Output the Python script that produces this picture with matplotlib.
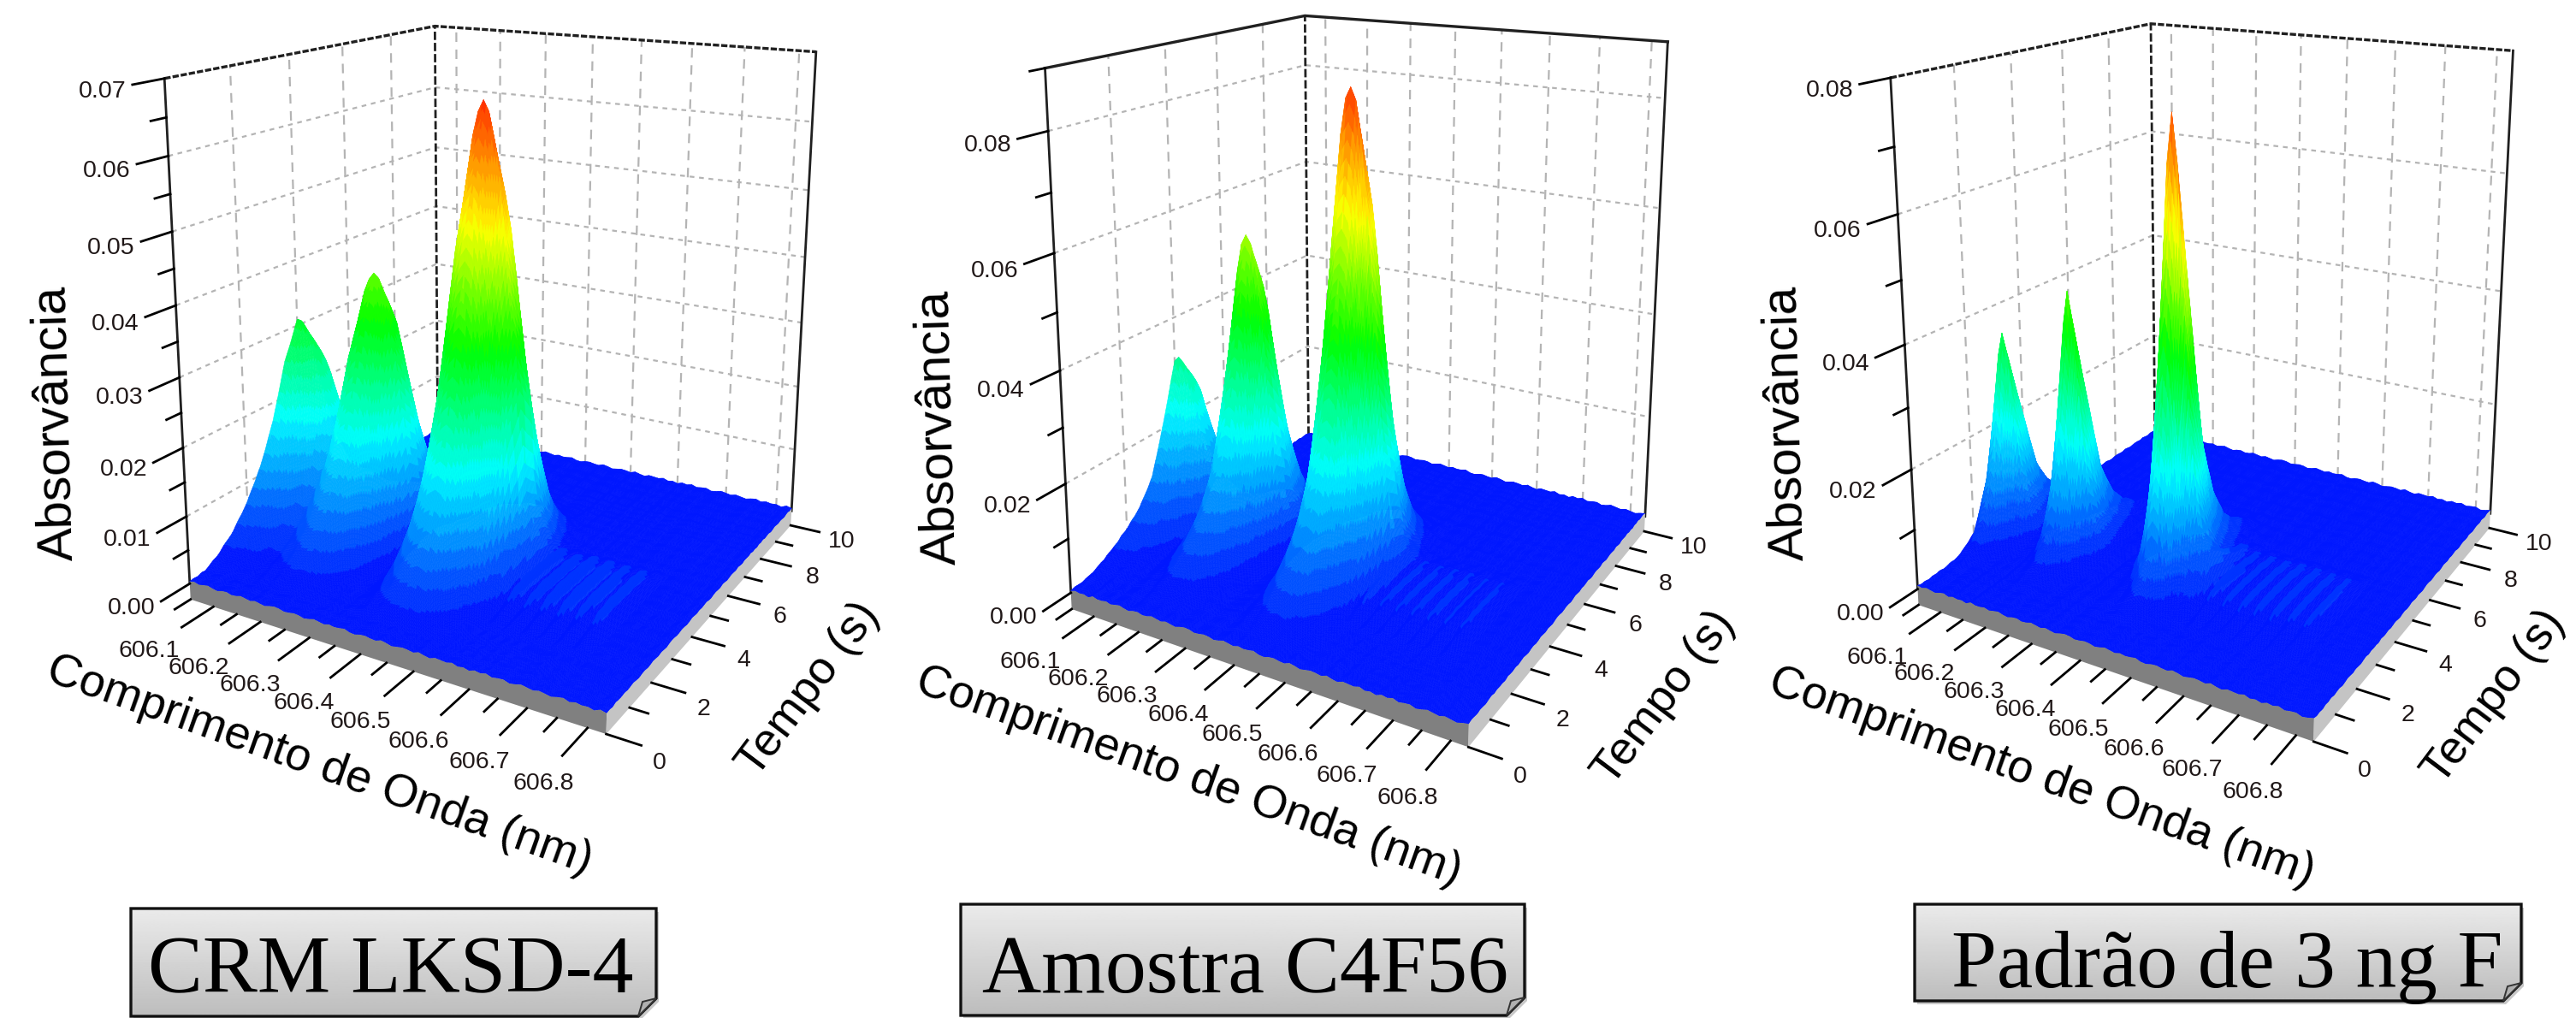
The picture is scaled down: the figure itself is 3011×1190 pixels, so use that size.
#!/usr/bin/env python3
"""Three 3D absorbance surfaces (wavelength x time) with captions below each."""

from __future__ import annotations

import matplotlib

matplotlib.use("Agg")

import matplotlib.pyplot as plt
import numpy as np
from matplotlib.collections import PolyCollection
from matplotlib.colors import LinearSegmentedColormap
from matplotlib.patches import Polygon


WIDTH, HEIGHT = 3011, 1190

WL_MIN, WL_MAX = 606.05, 606.83
TIME_MIN, TIME_MAX = 0.0, 10.0

WL_MAJOR = [606.1, 606.2, 606.3, 606.4, 606.5, 606.6, 606.7, 606.8]
WL_MINOR = [606.05, 606.15, 606.25, 606.35, 606.45, 606.55, 606.65, 606.75]
WL_LABELS = ["606.1", "606.2", "606.3", "606.4", "606.5", "606.6", "606.7", "606.8"]
TIME_MAJOR = [0, 2, 4, 6, 8, 10]
TIME_MINOR = [1, 3, 5, 7, 9]

# absorbance axis of each panel
ABS_MAX = [0.07, 0.09, 0.08]
ABS_MAJOR = [
    [0.00, 0.01, 0.02, 0.03, 0.04, 0.05, 0.06, 0.07],
    [0.00, 0.02, 0.04, 0.06, 0.08],
    [0.00, 0.02, 0.04, 0.06, 0.08],
]
ABS_MINOR = [
    [0.005, 0.015, 0.025, 0.035, 0.045, 0.055, 0.065],
    [0.01, 0.03, 0.05, 0.07, 0.09],
    [0.01, 0.03, 0.05, 0.07],
]
ABS_LABELS = [
    ["0.00", "0.01", "0.02", "0.03", "0.04", "0.05", "0.06", "0.07"],
    ["0.00", "0.02", "0.04", "0.06", "0.08"],
    ["0.00", "0.02", "0.04", "0.06", "0.08"],
]
COLOR_TOP = [0.066, 0.086, 0.076]

# peaks: centre (nm), height, half profile
PEAK_WL = [
    [606.052, 606.22, 606.44],
    [606.06, 606.22, 606.44],
    [606.07, 606.22, 606.44],
]
PEAK_HEIGHT = [
    [0.0305, 0.0395, 0.0655],
    [0.032, 0.0575, 0.085],
    [0.0352, 0.0445, 0.0745],
]

HALF_OFFSET = [0.0, 0.01, 0.02, 0.03, 0.04, 0.05, 0.06, 0.07, 0.08, 0.10, 0.12, 0.14]
HALF_P1_A = [1, 0.99, 0.96, 0.91, 0.84, 0.74, 0.62, 0.49, 0.37, 0.14, 0.03, 0]
HALF_P1_B = [1, 0.98, 0.93, 0.84, 0.72, 0.58, 0.44, 0.31, 0.20, 0.04, 0, 0]
HALF_P1_C = [1, 0.98, 0.93, 0.85, 0.74, 0.61, 0.48, 0.35, 0.23, 0.05, 0, 0]
HALF_P2_A = [1, 0.98, 0.92, 0.82, 0.69, 0.54, 0.39, 0.26, 0.16, 0.03, 0, 0]
HALF_P2_B = [1, 0.97, 0.88, 0.75, 0.59, 0.42, 0.28, 0.17, 0.09, 0.01, 0, 0]
HALF_P2_C = [1, 0.98, 0.91, 0.79, 0.64, 0.48, 0.33, 0.21, 0.12, 0.02, 0, 0]
HALF_P3_A = [1, 0.90, 0.66, 0.42, 0.25, 0.14, 0.08, 0.04, 0.02, 0, 0, 0]
HALF_P3_B = [1, 0.88, 0.62, 0.38, 0.22, 0.12, 0.06, 0.03, 0.01, 0, 0, 0]
HALF_P3_C = [1, 0.90, 0.65, 0.42, 0.26, 0.15, 0.09, 0.05, 0.02, 0.01, 0, 0]
PEAK_HALF = [
    [HALF_P1_A, HALF_P1_B, HALF_P1_C],
    [HALF_P2_A, HALF_P2_B, HALF_P2_C],
    [HALF_P3_A, HALF_P3_B, HALF_P3_C],
]

TIME_GRID = [0, 0.5, 1, 1.5, 2, 2.5, 3, 3.5, 4, 4.5, 5, 5.5, 6, 6.5, 7, 7.5, 8, 8.5, 9, 9.5, 10]
TIME_P1 = [0, 0.005, 0.05, 0.12, 0.22, 0.36, 0.55, 0.82, 1.0, 0.86, 0.54, 0.27, 0.12, 0.04, 0.01, 0, 0, 0, 0, 0, 0]
TIME_P2 = [0, 0.01, 0.04, 0.09, 0.15, 0.23, 0.37, 0.66, 1.0, 0.84, 0.48, 0.24, 0.10, 0.04, 0.01, 0, 0, 0, 0, 0, 0]
TIME_P3 = [0, 0, 0.005, 0.03, 0.12, 0.42, 1.0, 0.66, 0.32, 0.17, 0.09, 0.05, 0.03, 0.01, 0, 0, 0, 0, 0, 0, 0]
PEAK_TIME = [TIME_P1, TIME_P2, TIME_P3]

# faint stripes on the plate right of the big peak
RIPPLE_WL = [606.49, 606.51, 606.525, 606.54, 606.555, 606.57, 606.585, 606.60, 606.615, 606.63,
             606.645, 606.66, 606.675, 606.69, 606.705, 606.72, 606.74]
RIPPLE_ABS = [0, 0.0032, 0, 0.0032, 0, 0.0034, 0, 0.0034, 0, 0.0034, 0, 0.0034, 0, 0.0032, 0, 0.0032, 0]
RIPPLE_TIME = [0, 0, 0, 0, 0.5, 0.9, 1, 1, 1, 0.9, 0.4, 0, 0, 0, 0, 0, 0, 0, 0, 0, 0]
RIPPLE_GAIN = [1.0, 1.0, 1.0]

# small plate roughness seen on the rim of the plate
ROUGH_WL = [0.3, 0.5, 0.2, 0.4, 0.6, 0.3, 0.1, 0.4, 0.5, 0.2, 0.3, 0.6, 0.4, 0.2, 0.5, 0.3, 0.1, 0.4, 0.6, 0.5,
            0.2, 0.3, 0.5, 0.4, 0.1, 0.3, 0.6, 0.4, 0.2, 0.5, 0.3, 0.4, 0.6, 0.2, 0.1, 0.4, 0.5, 0.3, 0.2, 0.6,
            0.4, 0.1, 0.3, 0.5, 0.4, 0.2, 0.6, 0.3, 0.1, 0.5, 0.4, 0.3, 0.6, 0.2, 0.4, 0.1, 0.5, 0.3, 0.6, 0.2,
            0.4, 0.5, 0.1, 0.3, 0.6, 0.4, 0.2, 0.5, 0.3, 0.1, 0.4, 0.6, 0.2, 0.5, 0.3, 0.4, 0.1, 0.6, 0.3]

ABS_TITLE = "Absorvância"
WL_TITLE = "Comprimento de Onda (nm)"
TIME_TITLE = "Tempo (s)"
CAPTIONS = ["CRM LKSD-4", "Amostra C4F56", "Padrão de 3 ng F"]

# frame corners in figure pixels: left base, front, right base, back base,
# left top, right top, back top
CORNERS = [
    [(223, 681), (709, 838), (926, 596), (510, 505), (191, 92), (953, 61), (510, 30)],
    [(1252, 692), (1717, 852), (1923, 603), (1529, 509), (1221, 80), (1949, 49), (1526, 18)],
    [(2242, 689), (2705, 845), (2911, 601), (2518, 505), (2209, 91), (2937, 59), (2515, 28)],
]
CORNER_UVW = [(0, 0, 0), (1, 0, 0), (1, 1, 0), (0, 1, 0), (0, 0, 1), (1, 1, 1), (0, 1, 1)]

ABS_TITLE_AT = [(65, 495), (1097, 500), (2088, 495)]
WL_TITLE_AT = [(373, 895), (1389, 908), (2386, 909)]
TIME_TITLE_AT = [(945, 806), (1945, 816), (2915, 815)]

CAPTION_BOX = [(153, 767, 1062, 1188), (1123, 1782, 1057, 1187), (2238, 2947, 1057, 1170)]
CAPTION_AT = [(457, 1160), (1456, 1160), (2603, 1154)]
CAPTION_SIZE = [69, 69, 68.5]

BLUE_JET = LinearSegmentedColormap.from_list(
    "blue_jet",
    [(0.0, (0.0, 0.09, 1.0)), (0.25, (0.0, 1.0, 1.0)), (0.5, (0.0, 1.0, 0.0)),
     (0.75, (1.0, 1.0, 0.0)), (1.0, (1.0, 0.2, 0.0))],
)
N_BANDS = 32

TICK_FONT = ["Liberation Sans", "DejaVu Sans"]
TITLE_FONT = ["Liberation Sans", "DejaVu Sans"]
CAPTION_FONT = ["Liberation Serif", "DejaVu Serif"]


def fit_camera(corners):
    rows = []
    for (u, v, w), (x, y) in zip(CORNER_UVW, corners):
        x, y = x / 1000, y / 1000
        rows.append([u, v, w, 1, 0, 0, 0, 0, -x * u, -x * v, -x * w, -x])
        rows.append([0, 0, 0, 0, u, v, w, 1, -y * u, -y * v, -y * w, -y])
    _, _, vt = np.linalg.svd(np.array(rows, dtype=float))
    return vt[-1].reshape(3, 4)


def project(cam, wl, t, a, a_max):
    u = (np.asarray(wl, dtype=float) - WL_MIN) / (WL_MAX - WL_MIN)
    v = (np.asarray(t, dtype=float) - TIME_MIN) / (TIME_MAX - TIME_MIN)
    w = np.asarray(a, dtype=float) / a_max
    den = cam[2, 0] * u + cam[2, 1] * v + cam[2, 2] * w + cam[2, 3]
    x = (cam[0, 0] * u + cam[0, 1] * v + cam[0, 2] * w + cam[0, 3]) / den * 1000
    y = (cam[1, 0] * u + cam[1, 1] * v + cam[1, 2] * w + cam[1, 3]) / den * 1000
    return x, y


def build_surface(panel):
    # mesh density for drawing only
    wl = np.linspace(WL_MIN, WL_MAX, 313)
    t = np.linspace(TIME_MIN, TIME_MAX, 201)
    time_curve = np.interp(t, TIME_GRID, PEAK_TIME[panel])
    clean = np.zeros((t.size, wl.size))
    for centre, height, half in zip(PEAK_WL[panel], PEAK_HEIGHT[panel], PEAK_HALF[panel]):
        spec = np.interp(np.abs(wl - centre), HALF_OFFSET, half, right=0.0)
        clean += height * np.outer(time_curve, spec)
    ripple = np.interp(wl, RIPPLE_WL, RIPPLE_ABS, left=0, right=0)
    clean += RIPPLE_GAIN[panel] * np.outer(np.interp(t, TIME_GRID, RIPPLE_TIME), ripple)
    grid_wl = np.linspace(WL_MIN, WL_MAX, len(ROUGH_WL))
    grid_t = np.linspace(TIME_MIN, TIME_MAX, len(ROUGH_WL))
    rough_wl = np.interp(wl, grid_wl, np.roll(ROUGH_WL, panel * 7))
    rough_t = np.interp(t, grid_t, np.roll(ROUGH_WL, panel * 11 + 5))
    rough = rough_t[:, None] * 0.6 + rough_wl[None, :]
    return wl, t, clean, clean + ABS_MAX[panel] * 0.01 * rough


def draw_walls(ax, cam, panel):
    a_max = ABS_MAX[panel]
    for a in ABS_MAJOR[panel][1:]:
        if a >= a_max:
            continue
        xs, ys = project(cam, [WL_MIN, WL_MIN, WL_MAX], [0, TIME_MAX, TIME_MAX], [a, a, a], a_max)
        ax.plot(xs, ys, color="#b4b4b4", lw=1.6, ls=(0, (2.5, 2.5)), zorder=1)
    for t in TIME_MAJOR[1:-1]:
        xs, ys = project(cam, [WL_MIN, WL_MIN], [t, t], [0, a_max], a_max)
        ax.plot(xs, ys, color="#b4b4b4", lw=1.6, ls=(0, (5, 4)), zorder=1)
    for wl in WL_MAJOR:
        xs, ys = project(cam, [wl, wl], [TIME_MAX, TIME_MAX], [0, a_max], a_max)
        ax.plot(xs, ys, color="#b4b4b4", lw=1.6, ls=(0, (5, 4)), zorder=1)

    top_style = "-" if panel == 1 else (0, (2.2, 0.7))
    xs, ys = project(cam, [WL_MIN, WL_MIN, WL_MAX], [0, TIME_MAX, TIME_MAX], [a_max] * 3, a_max)
    ax.plot(xs, ys, color="#202020", lw=2.4, ls=top_style, zorder=2)
    xs, ys = project(cam, [WL_MIN, WL_MIN], [TIME_MAX, TIME_MAX], [0, a_max], a_max)
    ax.plot(xs, ys, color="#202020", lw=2.0, ls=(0, (3.5, 1.2)), zorder=2)
    xs, ys = project(cam, [WL_MIN, WL_MIN], [0, 0], [0, a_max], a_max)
    ax.plot(xs, ys, color="#202020", lw=2.0, zorder=2)
    xs, ys = project(cam, [WL_MAX, WL_MAX], [TIME_MAX, TIME_MAX], [0, a_max], a_max)
    ax.plot(xs, ys, color="#202020", lw=2.0, zorder=2)


def draw_surface(ax, cam, panel):
    a_max = ABS_MAX[panel]
    wl, t, clean, z = build_surface(panel)
    ww, tt = np.meshgrid(wl, t)
    px, py = project(cam, ww, tt, z, a_max)

    bands = np.clip(np.floor(clean / (COLOR_TOP[panel] / N_BANDS)), 0, N_BANDS - 1).astype(int)
    palette = BLUE_JET(np.arange(N_BANDS) / (N_BANDS - 1))
    polys = []
    colors = []
    # far corner first: low wavelength, late time
    for i in range(wl.size - 1):
        for j in range(t.size - 2, -1, -1):
            polys.append(
                [(px[j, i], py[j, i]), (px[j, i + 1], py[j, i + 1]),
                 (px[j + 1, i + 1], py[j + 1, i + 1]), (px[j + 1, i], py[j + 1, i])]
            )
            colors.append(palette[bands[j, i]])
    ax.add_collection(
        PolyCollection(polys, facecolors=colors, edgecolors=colors, linewidths=0.4, zorder=3)
    )

    drop = -0.034 * a_max
    tx, ty = project(cam, wl, np.zeros_like(wl), z[0], a_max)
    bx, by = project(cam, wl[::-1], np.zeros_like(wl), np.full_like(wl, drop), a_max)
    ax.add_patch(Polygon(np.c_[np.r_[tx, bx], np.r_[ty, by]], fc="#808080", ec="none", zorder=4))
    tx, ty = project(cam, np.full_like(t, WL_MAX), t, z[:, -1], a_max)
    bx, by = project(cam, np.full_like(t, WL_MAX), t[::-1], np.full_like(t, drop), a_max)
    ax.add_patch(Polygon(np.c_[np.r_[tx, bx], np.r_[ty, by]], fc="#c4c4c4", ec="none", zorder=4))


def draw_ticks(ax, cam, panel):
    a_max = ABS_MAX[panel]
    drop = -0.034 * a_max
    ink = "#201818"

    for a, label in zip(ABS_MAJOR[panel], ABS_LABELS[panel]):
        xs, ys = project(cam, [WL_MIN, WL_MIN], [0, -0.9], [a, a], a_max)
        ax.plot(xs, ys, color="black", lw=2, zorder=5)
        ax.text(xs[1] - 35, ys[1] + 8, label, fontsize=20.5, family=TICK_FONT, color=ink,
                ha="center", va="center", zorder=6)
    for a in ABS_MINOR[panel]:
        xs, ys = project(cam, [WL_MIN, WL_MIN], [0, -0.45], [a, a], a_max)
        ax.plot(xs, ys, color="black", lw=2, zorder=5)

    count = len(WL_MAJOR) - 1
    for n, (wl, label) in enumerate(zip(WL_MAJOR, WL_LABELS)):
        xs, ys = project(cam, [wl, wl], [0, -1.0], [drop, drop], a_max)
        ax.plot(xs, ys, color="black", lw=2, zorder=5)
        ax.text(xs[1] - 38 + 16 * n / count, ys[1] + 28 + 5 * n / count, label, fontsize=20.5,
                family=TICK_FONT, color=ink, ha="center", va="center", zorder=6)
    for wl in WL_MINOR:
        xs, ys = project(cam, [wl, wl], [0, -0.5], [drop, drop], a_max)
        ax.plot(xs, ys, color="black", lw=2, zorder=5)

    for t in TIME_MAJOR:
        xs, ys = project(cam, [WL_MAX, WL_MAX + 0.055], [t, t], [drop, drop], a_max)
        ax.plot(xs, ys, color="black", lw=2, zorder=5)
        ax.text(xs[1] + 21 + 0.5 * t, ys[1] + 21 - t, f"{t}", fontsize=20.5, family=TICK_FONT,
                color=ink, ha="center", va="center", zorder=6)
    for t in TIME_MINOR:
        xs, ys = project(cam, [WL_MAX, WL_MAX + 0.03], [t, t], [drop, drop], a_max)
        ax.plot(xs, ys, color="black", lw=2, zorder=5)


def draw_caption(ax, panel):
    left, right, top, bottom = CAPTION_BOX[panel]
    fold = 21
    outline = [(left, top), (right, top), (right, bottom - fold), (right - fold, bottom), (left, bottom)]
    shadow = Polygon([(x + 3, y + 4) for x, y in outline], fc="#c8c8c8", ec="none", zorder=7)
    ax.add_patch(shadow)
    box = Polygon(outline, fc="none", ec="#111111", lw=2.4, zorder=9)
    ramp = np.linspace(0.92, 0.74, 128)[:, None]
    image = ax.imshow(ramp, cmap="gray", vmin=0, vmax=1, extent=(left, right, bottom, top),
                      aspect="auto", zorder=8)
    image.set_clip_path(Polygon(outline, transform=ax.transData))
    ax.add_patch(box)
    ax.add_patch(Polygon([(right, bottom - fold), (right - fold + 5, bottom - fold + 4), (right - fold, bottom)],
                         fc="#b0b0b0", ec="#333333", lw=1.4, zorder=9))
    x, y = CAPTION_AT[panel]
    ax.text(x, y, CAPTIONS[panel], fontsize=CAPTION_SIZE[panel], family=CAPTION_FONT, color="black",
            ha="center", va="baseline", zorder=10)


def main() -> None:
    fig = plt.figure(figsize=(WIDTH / 100, HEIGHT / 100), dpi=100)
    ax = fig.add_axes([0, 0, 1, 1])
    ax.set_xlim(0, WIDTH)
    ax.set_ylim(HEIGHT, 0)
    ax.axis("off")

    for panel in range(3):
        cam = fit_camera(CORNERS[panel])
        draw_walls(ax, cam, panel)
        draw_surface(ax, cam, panel)
        draw_ticks(ax, cam, panel)

        x, y = ABS_TITLE_AT[panel]
        ax.text(x, y, ABS_TITLE, fontsize=42, family=TITLE_FONT, rotation=91.5, ha="center", va="center",
                rotation_mode="anchor", zorder=6)
        x, y = WL_TITLE_AT[panel]
        ax.text(x, y, WL_TITLE, fontsize=39, family=TITLE_FONT, rotation=-19.7, ha="center", va="center",
                rotation_mode="anchor", zorder=6)
        x, y = TIME_TITLE_AT[panel]
        ax.text(x, y, TIME_TITLE, fontsize=39, family=TITLE_FONT, rotation=53, ha="center", va="center",
                rotation_mode="anchor", zorder=6)
        draw_caption(ax, panel)

    ax.set_xlim(0, WIDTH)
    ax.set_ylim(HEIGHT, 0)
    fig.savefig("out.png", dpi=100, facecolor="white")
    plt.close(fig)


if __name__ == "__main__":
    main()
